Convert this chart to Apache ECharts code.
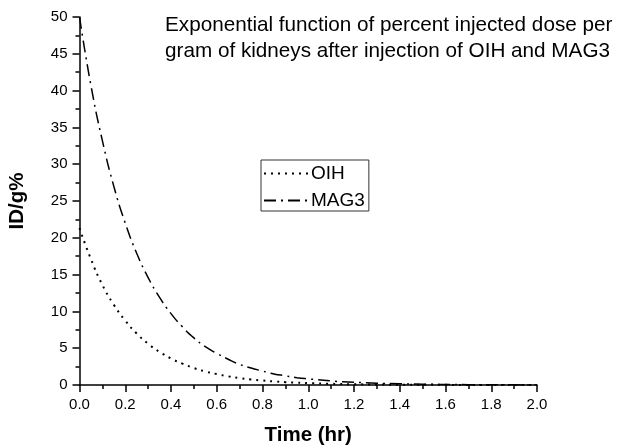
<!DOCTYPE html>
<html>
<head>
<meta charset="utf-8">
<script src="https://cdn.jsdelivr.net/npm/echarts@6/dist/echarts.min.js"></script>
<style>
html,body{margin:0;padding:0;background:#fff;}
#chart{width:619px;height:448px;}
</style>
</head>
<body>
<div id="chart"></div>
<script>
var times = [0, 0.05, 0.1, 0.15, 0.2, 0.25, 0.3, 0.35, 0.4, 0.45, 0.5, 0.55, 0.6, 0.65, 0.7, 0.75, 0.8, 0.85, 0.9, 0.95, 1.0, 1.1, 1.2, 1.3, 1.4, 1.5, 1.6, 1.7, 1.8, 1.9, 2.0];
var oihValues = [21.3, 17.1, 13.6, 10.9, 8.75, 7.0, 5.6, 4.5, 3.6, 2.9, 2.3, 1.84, 1.48, 1.18, 0.95, 0.76, 0.61, 0.49, 0.39, 0.31, 0.25, 0.16, 0.10, 0.065, 0.04, 0.03, 0.02, 0.01, 0.007, 0.004, 0.003];
var mag3Values = [50, 40.7, 33.2, 27.0, 22.0, 17.9, 14.6, 11.9, 9.7, 7.9, 6.4, 5.2, 4.3, 3.5, 2.8, 2.3, 1.9, 1.5, 1.25, 1.0, 0.83, 0.55, 0.37, 0.24, 0.16, 0.11, 0.07, 0.05, 0.03, 0.02, 0.01];
var seriesNames = ['OIH', 'MAG3'];
var titleLines = ['Exponential function of percent injected dose per', 'gram of kidneys after injection of OIH and MAG3'];
var xName = 'Time (hr)';
var yName = 'ID/g%';

function pairs(vals) { return times.map(function (t, i) { return [t, vals[i]]; }); }

var FONT = 'Liberation Sans, Arial, Helvetica, sans-serif';
var chart = echarts.init(document.getElementById('chart'), null, {renderer: 'canvas'});
var axisCommon = {
  axisLine: {show: true, onZero: false, lineStyle: {color: '#000', width: 1.5}},
  axisTick: {show: true, inside: false, length: 7, lineStyle: {color: '#000', width: 1.5}},
  minorTick: {show: true, splitNumber: 2, length: 4, lineStyle: {color: '#000', width: 1.5}},
  splitLine: {show: false},
  nameLocation: 'middle',
  nameTextStyle: {fontFamily: FONT, fontSize: 20.5, fontWeight: 'bold', color: '#000'}
};
chart.setOption({
  animation: false,
  backgroundColor: '#fff',
  title: {
    text: titleLines.join('\n'),
    left: 160, top: 7,
    textStyle: {fontFamily: FONT, fontSize: 20.7, fontWeight: 'normal', color: '#000', lineHeight: 26}
  },
  grid: {left: 79.5, right: 82, top: 17, bottom: 63, containLabel: false, outerBoundsMode: 'none'},
  legend: {
    orient: 'vertical',
    left: 261, top: 160,
    padding: [4, 4, 1, 2],
    itemWidth: 46, itemHeight: 14, itemGap: 8,
    borderColor: '#333', borderWidth: 1,
    itemStyle: {opacity: 0},
    textStyle: {fontFamily: FONT, fontSize: 19, color: '#000', padding: [0, 0, 0, -4]},
    data: seriesNames
  },
  xAxis: Object.assign({}, axisCommon, {
    type: 'value', min: 0, max: 2, interval: 0.2,
    name: xName, nameGap: 40,
    axisLabel: {fontFamily: FONT, fontSize: 15, color: '#000', margin: 12,
      formatter: function (v) { return v.toFixed(1); }}
  }),
  yAxis: Object.assign({}, axisCommon, {
    type: 'value', min: 0, max: 50, interval: 5,
    name: yName, nameGap: 52,
    axisLabel: {fontFamily: FONT, fontSize: 15, color: '#000', margin: 12}
  }),
  series: [
    {name: seriesNames[0], type: 'line', smooth: true, symbol: 'none', showSymbol: false,
      data: pairs(oihValues),
      lineStyle: {color: '#000', width: 2, type: [2, 5]}, itemStyle: {color: '#000'}},
    {name: seriesNames[1], type: 'line', smooth: true, symbol: 'none', showSymbol: false,
      data: pairs(mag3Values),
      lineStyle: {color: '#000', width: 1.5, type: [12, 5, 2, 5]}, itemStyle: {color: '#000'}}
  ]
});
</script>
</body>
</html>
